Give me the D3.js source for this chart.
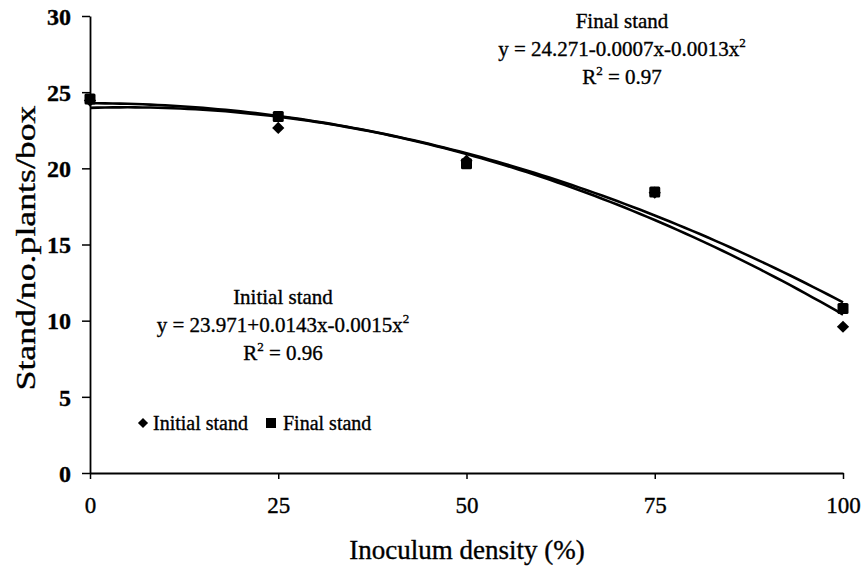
<!DOCTYPE html>
<html>
<head>
<meta charset="utf-8">
<script src="https://cdn.jsdelivr.net/npm/d3@7"></script>
<style>
  body { margin: 0; background: #fff; }
  svg { display: block; }
  text { font-family: "Liberation Serif", "Times New Roman", serif; fill: #000; }
  .heavy { stroke: #000; stroke-width: 0.35px; }
</style>
</head>
<body>
<div id="chart"></div>
<script>
// data
const densities = [0, 25, 50, 75, 100];
const initialStand = [24.45, 22.65, 20.5, 18.4, 9.6];
const finalStand = [24.55, 23.4, 20.3, 18.45, 10.8];
// fitted trend lines printed on the chart: a + b*x + c*x^2
const initialCoef = [23.971, 0.0143, -0.0015];
const finalCoef = [24.271, -0.0007, -0.0013];
const yTicks = [0, 5, 10, 15, 20, 25, 30];
const xTicks = [0, 25, 50, 75, 100];

const width = 865;
const height = 569;

const svg = d3.select("#chart").append("svg")
    .attr("width", width)
    .attr("height", height);

const x = d3.scaleLinear().domain([0, 100]).range([90, 843]);
const y = d3.scaleLinear().domain([0, 30]).range([473, 16]);

// y axis
const yAxis = svg.append("g")
    .attr("transform", "translate(" + x(0) + ",0)")
    .call(d3.axisLeft(y).tickValues(yTicks).tickSize(8).tickSizeOuter(0).tickPadding(11));
yAxis.select(".domain").attr("stroke-width", 1.8);
yAxis.selectAll(".tick line").attr("stroke-width", 1.5);
yAxis.selectAll("text")
    .attr("class", "heavy")
    .style("font-size", "24px")
    .style("font-weight", "bold")
    .attr("dy", "0.34em");

// x axis
const xAxis = svg.append("g")
    .attr("transform", "translate(0," + y(0) + ")")
    .call(d3.axisBottom(x).tickValues(xTicks).tickSize(6).tickSizeOuter(0));
xAxis.select(".domain").attr("stroke-width", 1.8);
xAxis.selectAll(".tick line").attr("stroke-width", 1.5);
xAxis.selectAll("text")
    .attr("class", "heavy")
    .style("font-size", "23px")
    .attr("y", 40)
    .attr("dy", 0);

// axis titles
svg.append("text")
    .attr("class", "heavy")
    .attr("transform", "translate(35,248) rotate(-90)")
    .attr("text-anchor", "middle")
    .attr("textLength", 285)
    .attr("lengthAdjust", "spacingAndGlyphs")
    .style("font-size", "28px")
    .text("Stand/no.plants/box");

svg.append("text")
    .attr("class", "heavy")
    .attr("x", 467)
    .attr("y", 559)
    .attr("text-anchor", "middle")
    .style("font-size", "27px")
    .text("Inoculum density (%)");

// trend lines
function trend(coef) {
    return d3.range(0, 100.5, 1).map(v => [v, coef[0] + coef[1] * v + coef[2] * v * v]);
}
const line = d3.line()
    .x(d => x(d[0]))
    .y(d => y(d[1]));

[initialCoef, finalCoef].forEach(function (c) {
    svg.append("path")
        .datum(trend(c))
        .attr("fill", "none")
        .attr("stroke", "#000")
        .attr("stroke-width", 2.6)
        .attr("d", line);
});

// points
const diamond = d3.symbol().type(d3.symbolDiamond2).size(95);
svg.append("g")
    .selectAll("path")
    .data(densities.map((d, i) => [d, initialStand[i]]))
    .enter()
    .append("path")
    .attr("d", diamond)
    .attr("transform", d => "translate(" + x(d[0]) + "," + y(d[1]) + ")")
    .attr("fill", "#000");

svg.append("g")
    .selectAll("rect")
    .data(densities.map((d, i) => [d, finalStand[i]]))
    .enter()
    .append("rect")
    .attr("x", d => x(d[0]) - 5.5)
    .attr("y", d => y(d[1]) - 5.5)
    .attr("width", 11)
    .attr("height", 11)
    .attr("rx", 1.5)
    .attr("fill", "#000");

// equation labels
function eqLabel(cx, top, title, a, b, c, r2) {
    const g = svg.append("g")
        .attr("class", "heavy")
        .style("font-size", "21px")
        .attr("text-anchor", "middle");
    g.append("text").attr("class", "heavy").attr("x", cx).attr("y", top).text(title);
    const t = g.append("text").attr("class", "heavy").attr("x", cx).attr("y", top + 28);
    t.append("tspan").text("y = " + a + b + "x" + c + "x");
    t.append("tspan").attr("dy", -9).style("font-size", "13px").text("2");
    const r = g.append("text").attr("class", "heavy").attr("x", cx).attr("y", top + 56);
    r.append("tspan").text("R");
    r.append("tspan").attr("dy", -9).style("font-size", "13px").text("2");
    r.append("tspan").attr("dy", 9).text(" = " + r2);
}
eqLabel(622, 28, "Final stand", "24.271", "-0.0007", "-0.0013", "0.97");
eqLabel(283, 304, "Initial stand", "23.971", "+0.0143", "-0.0015", "0.96");

// legend
const legend = svg.append("g").style("font-size", "20px");
legend.append("path")
    .attr("d", d3.symbol().type(d3.symbolDiamond2).size(65))
    .attr("transform", "translate(143,423)");
legend.append("text").attr("class", "heavy").attr("x", 153).attr("y", 430).text("Initial stand");
legend.append("rect").attr("x", 266).attr("y", 418).attr("width", 10).attr("height", 10);
legend.append("text").attr("class", "heavy").attr("x", 283).attr("y", 430).text("Final stand");
</script>
</body>
</html>
